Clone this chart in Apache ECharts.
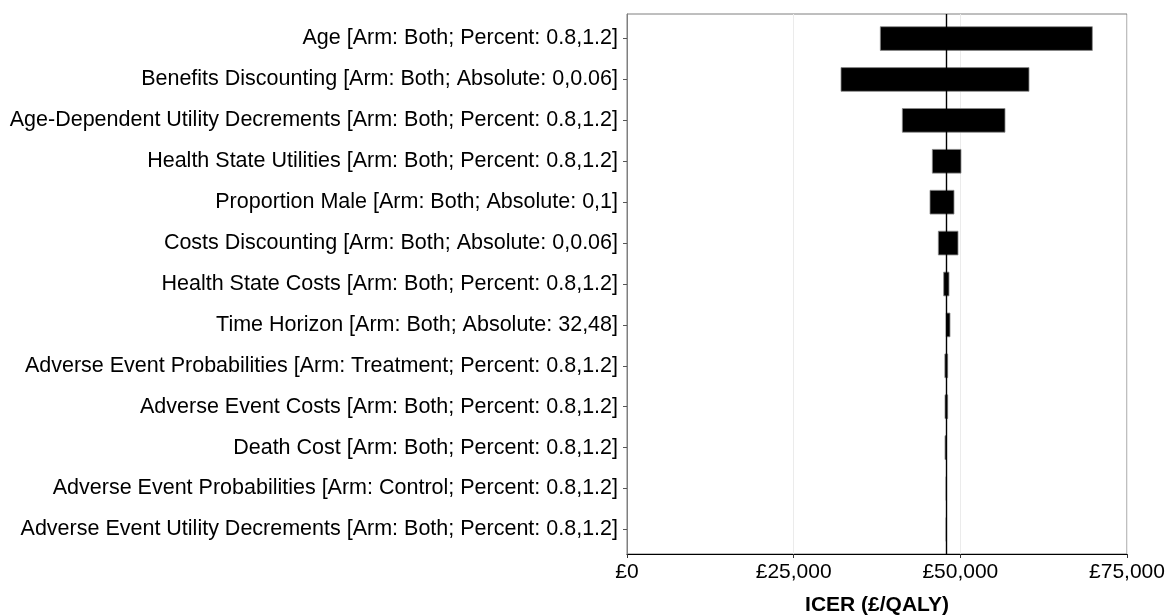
<!DOCTYPE html>
<html>
<head>
<meta charset="utf-8">
<script src="https://cdn.jsdelivr.net/npm/echarts@6/dist/echarts.min.js"></script>
<style>
  html, body { margin: 0; padding: 0; background: #fff; }
  #chart { width: 1176px; height: 615px; }
</style>
</head>
<body>
<div id="chart"></div>
<script>
// One-way sensitivity analysis: ICER range for each parameter (tornado diagram)
const parameters = [
  'Age [Arm: Both; Percent: 0.8,1.2]',
  'Benefits Discounting [Arm: Both; Absolute: 0,0.06]',
  'Age-Dependent Utility Decrements [Arm: Both; Percent: 0.8,1.2]',
  'Health State Utilities [Arm: Both; Percent: 0.8,1.2]',
  'Proportion Male [Arm: Both; Absolute: 0,1]',
  'Costs Discounting [Arm: Both; Absolute: 0,0.06]',
  'Health State Costs [Arm: Both; Percent: 0.8,1.2]',
  'Time Horizon [Arm: Both; Absolute: 32,48]',
  'Adverse Event Probabilities [Arm: Treatment; Percent: 0.8,1.2]',
  'Adverse Event Costs [Arm: Both; Percent: 0.8,1.2]',
  'Death Cost [Arm: Both; Percent: 0.8,1.2]',
  'Adverse Event Probabilities [Arm: Control; Percent: 0.8,1.2]',
  'Adverse Event Utility Decrements [Arm: Both; Percent: 0.8,1.2]'
];
const icerLow  = [38000, 32100, 41300, 45800, 45450, 46700, 47500, 47880, 47680, 47700, 47700, 47880, 47880];
const icerHigh = [69800, 60300, 56700, 50100, 49050, 49650, 48300, 48450, 48100, 48100, 47880, 47880, 47880];
const baseIcer = 47880;
const xTicks = [0, 25000, 50000, 75000];

const rows = parameters.map((p, i) => [icerLow[i], icerHigh[i], i + 1]);
const rowPositions = parameters.map((p, i) => i + 1);
const fmtGBP = v => '£' + Math.round(v).toLocaleString('en-GB');

const chart = echarts.init(document.getElementById('chart'), null, { renderer: 'canvas' });
const font = 'Liberation Sans, Arial, sans-serif';

chart.setOption({
  animation: false,
  backgroundColor: '#ffffff',
  grid: {
    left: 627, right: 49, top: 14, bottom: 61,
    outerBoundsMode: 'none',
    containLabel: false,
    show: true, borderColor: '#7f7f7f', borderWidth: 1, backgroundColor: 'transparent'
  },
  xAxis: {
    type: 'value',
    min: xTicks[0], max: xTicks[xTicks.length - 1], interval: 25000,
    name: 'ICER (£/QALY)',
    nameLocation: 'middle',
    nameGap: 41,
    nameTextStyle: { fontFamily: font, fontSize: 21, fontWeight: 'bold', color: '#000' },
    axisLine: { show: true, lineStyle: { color: '#000', width: 1.2 } },
    axisTick: { show: true, length: 4, lineStyle: { color: '#333' } },
    axisLabel: { fontFamily: font, fontSize: 21, color: '#000', margin: 8, formatter: fmtGBP },
    splitLine: { show: true, lineStyle: { color: '#ebebeb', width: 1 } }
  },
  yAxis: {
    type: 'value',
    inverse: true,
    min: 0.4, max: 13.6,
    axisLine: { show: true, lineStyle: { color: '#7f7f7f', width: 1 } },
    axisTick: { show: true, length: 4, lineStyle: { color: '#555' }, customValues: rowPositions },
    axisLabel: {
      fontFamily: font, fontSize: 21.5, color: '#000', margin: 9,
      customValues: rowPositions,
      formatter: v => parameters[Math.round(v) - 1] || ''
    },
    splitLine: { show: false }
  },
  series: [{
    type: 'custom',
    data: rows,
    encode: { x: [0, 1], y: 2 },
    renderItem: (params, api) => {
      const lo = api.coord([api.value(0), api.value(2)]);
      const hi = api.coord([api.value(1), api.value(2)]);
      const h = api.size([0, 0.58])[1];
      return {
        type: 'rect',
        shape: { x: lo[0], y: lo[1] - h / 2, width: Math.max(hi[0] - lo[0], 0), height: h },
        style: { fill: '#000', stroke: '#8a8a8a', lineWidth: 0.8 }
      };
    },
    markLine: {
      silent: true,
      symbol: ['none', 'none'],
      label: { show: false },
      lineStyle: { color: '#000', width: 1.4, type: 'solid' },
      data: [{ xAxis: baseIcer }]
    },
    z: 2
  }]
});
</script>
</body>
</html>
